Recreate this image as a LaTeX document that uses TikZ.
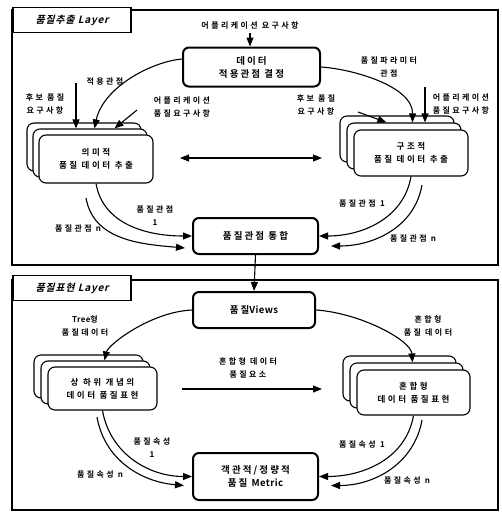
\documentclass[tikz,border=0pt]{standalone}
\usepackage{fontspec}
\setmainfont{Noto Sans CJK KR}[BoldFont={* Bold}]
\newfontfamily\layerfont{Noto Sans CJK KR}[BoldFont={* Bold},FakeSlant=0.25,LetterSpace=8]
\newfontfamily\boxfont{Noto Sans CJK KR}[BoldFont={* Bold},LetterSpace=22]
\newfontfamily\lblfont{Noto Sans CJK KR}[BoldFont={* Bold},LetterSpace=30]
\newfontfamily\latfont{Noto Sans CJK KR}[BoldFont={* Bold},LetterSpace=4]
\newcommand{\lat}[1]{{\latfont\bfseries #1}}
\usetikzlibrary{arrows.meta,calc}
\tikzset{
  mainbox/.style={draw, line width=2pt, rounded corners=6pt, fill=white, align=center,
    font=\boxfont\bfseries\fontsize{9.5}{13}\selectfont, inner sep=0pt},
  stackbox/.style={draw, line width=1.1pt, rounded corners=7pt, fill=white, align=center,
    font=\lblfont\bfseries\fontsize{8.5}{13}\selectfont, inner sep=0pt},
  lbl/.style={align=center, font=\lblfont\bfseries\fontsize{8}{13}\selectfont, inner sep=1pt},
  layerlbl/.style={draw, line width=1.6pt, fill=white, font=\layerfont\bfseries\fontsize{10}{12}\selectfont,
    minimum width=118pt, minimum height=25pt, inner sep=0pt},
  frame/.style={draw, line width=1.1pt},
  arr/.style={line width=1.1pt, -{Triangle[length=9pt,width=7pt]}},
  darr/.style={line width=1.1pt, {Triangle[length=9pt,width=7pt]}-{Triangle[length=9pt,width=7pt]}},
}
\begin{document}
\begin{tikzpicture}[x=1pt,y=-1pt]
\useasboundingbox[fill=white] (0,0) rectangle (502,514);
% ---------- Layer 1 ----------
\draw[frame] (12,10) rectangle (498,265);
\node[layerlbl] (L1) at (72,20) {품질추출 Layer};
\node[lbl] (appreq) at (250,25) {어플리케이션 요구사항};
\node[mainbox, minimum width=137pt, minimum height=39pt] (A) at (251.5,67) {데이터\\적용관점 결정};
\coordinate (aq) at (250,33);
\draw[arr] (aq) -- (aq |- A.north);

% left stack
\node[stackbox, minimum width=114pt, minimum height=48pt] (LSb) at (84,147) {};
\node[stackbox, minimum width=114pt, minimum height=48pt] (LSm) at (90,153) {};
\node[stackbox, minimum width=114pt, minimum height=48pt] (LSf) at (96,159) {의미적\\품질 데이터 추출};
% right stack
\node[stackbox, minimum width=114pt, minimum height=46pt] (RSb) at (397,139) {};
\node[stackbox, minimum width=114pt, minimum height=46pt] (RSm) at (404,146) {};
\node[stackbox, minimum width=114pt, minimum height=46pt] (RSf) at (411,153) {구조적\\품질 데이터 추출};

\node[lbl] (lcand) at (45,104) {후보 품질\\요구사항};
\node[lbl] (lappq) at (182,107) {어플리케이션\\품질요구사항};
\node[lbl] (lview) at (105,82) {적용관점};
\coordinate (lv) at (76,83);
\coordinate (ld) at (137,110);
\draw[arr] (lv) -- (lv |- LSm.north);
\draw[arr] (ld) -- ($(LSm.north west)+(82,0)$);
\draw[arr] ([yshift=8pt]A.west) .. controls (150,62) and (103,88) .. ($(LSm.north west)+(62,0)$);

\node[lbl] (rparam) at (389,67) {품질파라미터\\관점};
\node[lbl] (rcand) at (316,105) {후보 품질\\요구사항};
\node[lbl] (rappq) at (461,104) {어플리케이션\\품질요구사항};
\coordinate (rv) at (425,87);
\coordinate (rd) at (358,112);
\draw[arr] (rv) -- (rv |- RSm.north);
\draw[arr] (rd) -- ($(RSm.north west)+(40,0)$);
\draw[arr] (A.east) .. controls (352,69) and (413,86) .. ($(RSm.north west)+(66,0)$);

\coordinate (dl) at (180,158);
\coordinate (dr) at (322,158);
\draw[darr] (dl) -- (dr);

\node[mainbox, minimum width=125pt, minimum height=36pt] (B) at (255.5,236) {품질관점 통합};
\coordinate (c2s) at (86,198);
\coordinate (r2s) at (422,185);
\draw[arr] (LSf.south) to[out=-80,in=180] (B.west);
\draw[arr] (c2s) to[out=-80,in=175] ($(B.west)+(-7,12)$);
\draw[arr] (RSf.south) to[out=-100,in=0] (B.east);
\draw[arr] (r2s) to[out=-100,in=0] ($(B.east)+(12,10)$);
\node[lbl] at (155,216) {품질관점\\1};
\node[lbl] at (78,228) {품질관점 n};
\node[lbl] at (362,203) {품질관점 1};
\node[lbl] at (413,238) {품질관점 n};

% ---------- Layer 2 ----------
\draw[frame] (12,280) rectangle (498,510);
\node[layerlbl] (L2) at (72,288) {품질표현 Layer};
\node[mainbox, minimum width=122pt, minimum height=36pt] (V) at (254,310) {품질\lat{Views}};
\draw[arr] (B.south) -- (V.north);

\node[stackbox, minimum width=109pt, minimum height=43pt] (LS2b) at (88.5,376.5) {};
\node[stackbox, minimum width=109pt, minimum height=43pt] (LS2m) at (95.5,382.5) {};
\node[stackbox, minimum width=109pt, minimum height=43pt] (LS2f) at (102.5,388.5) {상 하위 개념의\\데이터 품질표현};
\node[stackbox, minimum width=113pt, minimum height=45pt] (RS2b) at (399.5,378.5) {};
\node[stackbox, minimum width=113pt, minimum height=45pt] (RS2m) at (406.5,385.5) {};
\node[stackbox, minimum width=113pt, minimum height=45pt] (RS2f) at (413.5,392.5) {혼합형\\데이터 품질표현};

\node[lbl] at (85,326) {\lat{Tree}형\\품질데이터};
\node[lbl] at (428,326) {혼합형\\품질 데이터};
\draw[arr] (V.west) .. controls (150,312) and (108,345) .. ($(LS2m.north west)+(64,0)$);
\draw[arr] (V.east) .. controls (360,313) and (411,340) .. ($(RS2m.north west)+(63,0)$);

\coordinate (hl) at (182,389);
\coordinate (hr) at (322,389);
\draw[arr] (hl) -- (hr);
\node[lbl] at (248,368) {혼합형 데이터\\품질요소};

\node[mainbox, minimum width=125pt, minimum height=47pt] (M) at (255.5,476.5) {객관적/정량적\\품질 \lat{Metric}};
\coordinate (l2s) at (97,417);
\coordinate (q2s) at (422,420);
\draw[arr] (LS2f.south) to[out=-80,in=180] (M.west);
\draw[arr] (l2s) to[out=-80,in=175] ($(M.west)+(-8,9)$);
\draw[arr] (RS2f.south) to[out=-100,in=0] (M.east);
\draw[arr] (q2s) to[out=-100,in=0] ($(M.east)+(12,9)$);
\node[lbl] at (152,448) {품질속성\\1};
\node[lbl] at (100,475) {품질속성 n};
\node[lbl] at (362,445) {품질속성 1};
\node[lbl] at (407,481) {품질속성 n};
\end{tikzpicture}
\end{document}
